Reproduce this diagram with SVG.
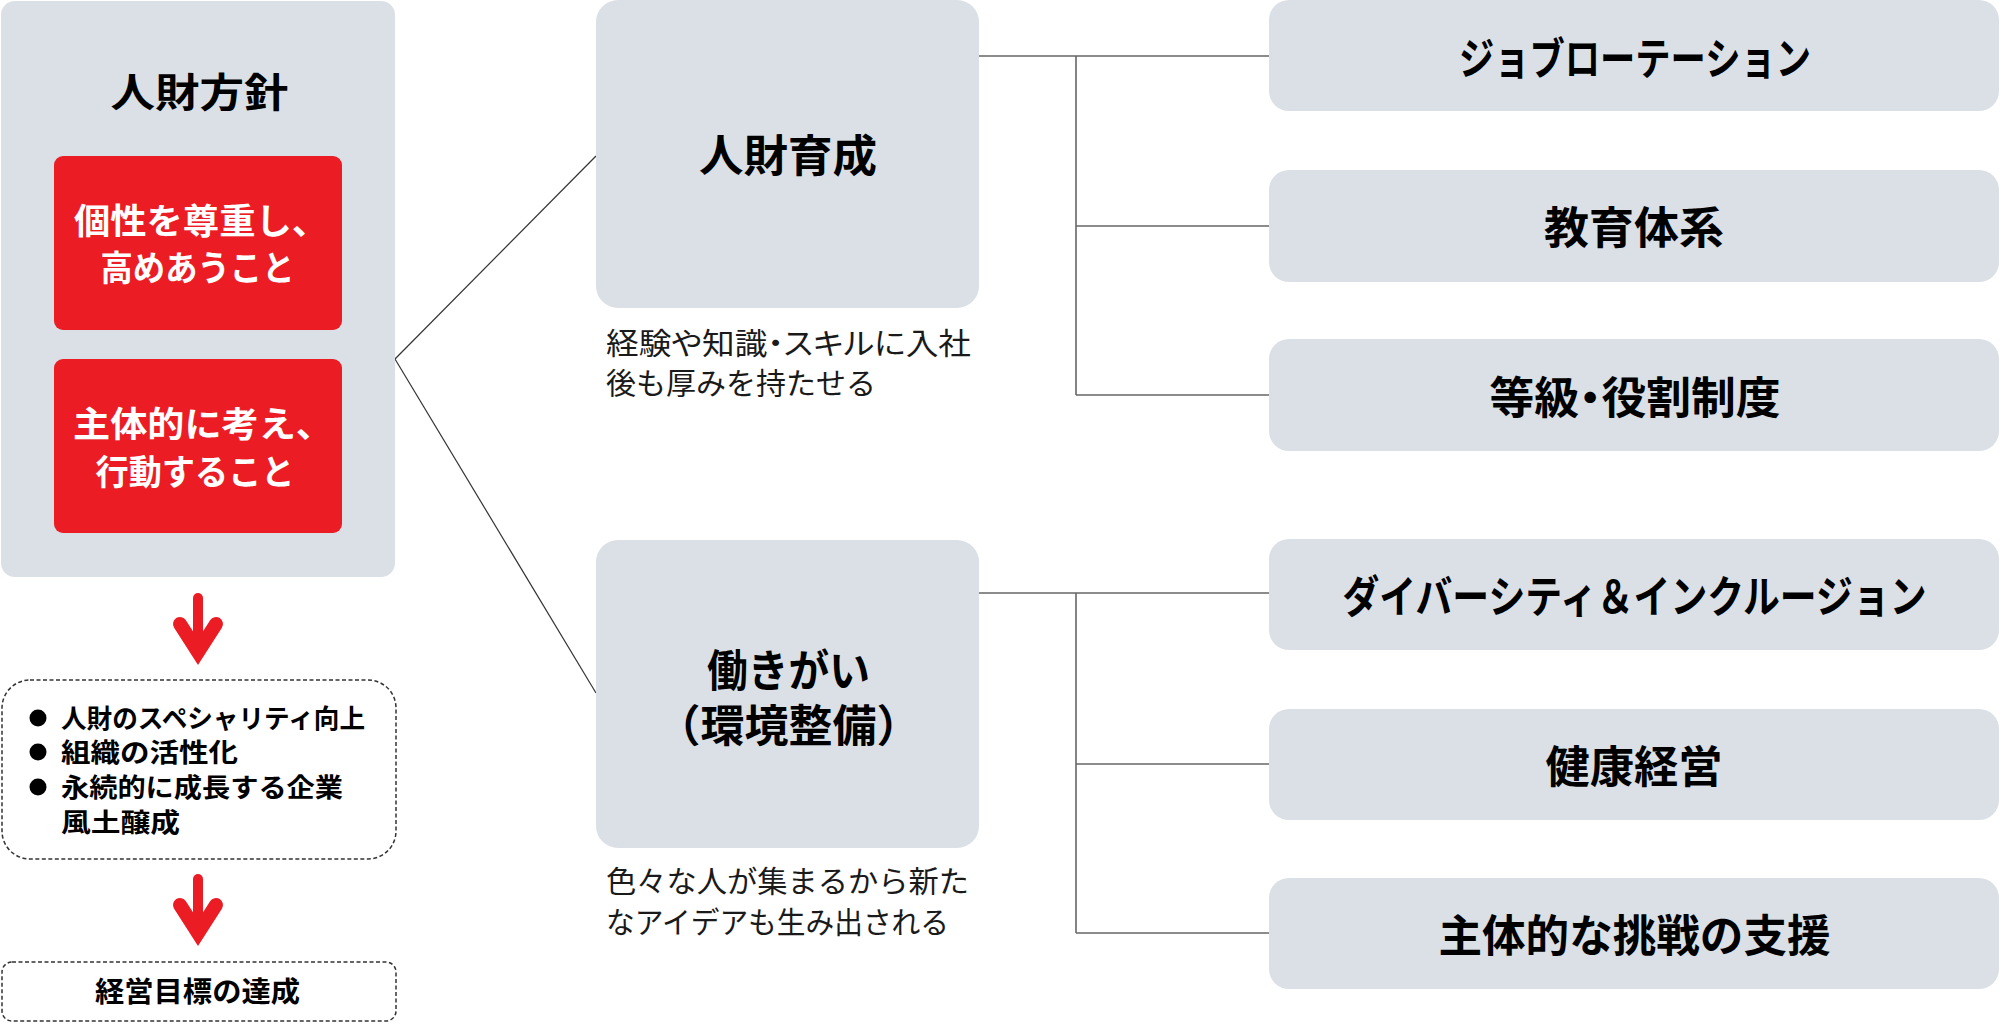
<svg xmlns="http://www.w3.org/2000/svg" xmlns:xlink="http://www.w3.org/1999/xlink" width="2000" height="1027" viewBox="0 0 2000 1027">
<style>
  text { font-family: "Noto Sans CJK JP", "Noto Sans CJK SC", sans-serif; }
  .panel { fill: #DAE0E6; }
  .red { fill: #EC1C24; }
  .dash { fill: #FFFFFF; stroke: #333333; stroke-width: 1.5; stroke-dasharray: 4 2.5; }
  .b { font-weight: 700; fill: #000000; }
  .w { font-weight: 700; fill: #FFFFFF; }
  .cap { font-weight: 400; fill: #1A1A1A; font-size: 30px; }
  .c { text-anchor: middle; }
  .p { font-feature-settings: "palt" 1; }
  .conn { stroke: #666666; stroke-width: 1.6; fill: none; }
  .diag { stroke: #333333; stroke-width: 1.2; fill: none; }
  .arrShaft { stroke: #EC1C24; stroke-width: 10; stroke-linecap: round; fill: none; }
  .arrHead { stroke: #EC1C24; stroke-width: 14; stroke-linecap: round; stroke-linejoin: miter; fill: none; }
</style>
<defs>
  <g id="downArrow">
    <line class="arrShaft" x1="0" y1="5" x2="0" y2="55"/>
    <polyline class="arrHead" points="-18,31 0,59 18,31"/>
  </g>
</defs>
<rect width="2000" height="1027" fill="#FFFFFF"/>

<g id="connectors">
  <line class="diag" x1="395" y1="359" x2="596" y2="156"/>
  <line class="diag" x1="395" y1="359" x2="596" y2="693"/>
  <line class="conn" x1="979" y1="56" x2="1269" y2="56"/>
  <line class="conn" x1="1076" y1="56" x2="1076" y2="395"/>
  <line class="conn" x1="1076" y1="226" x2="1269" y2="226"/>
  <line class="conn" x1="1076" y1="395" x2="1269" y2="395"/>
  <line class="conn" x1="979" y1="593" x2="1269" y2="593"/>
  <line class="conn" x1="1076" y1="593" x2="1076" y2="933"/>
  <line class="conn" x1="1076" y1="764" x2="1269" y2="764"/>
  <line class="conn" x1="1076" y1="933" x2="1269" y2="933"/>
  <use xlink:href="#downArrow" href="#downArrow" transform="translate(198,593)"/>
  <use xlink:href="#downArrow" href="#downArrow" transform="translate(198,874)"/>
</g>

<g id="policy">
  <rect class="panel" x="1" y="1" width="394" height="576" rx="14"/>
  <text class="b c" x="199.5" y="107" font-size="40" textLength="178" lengthAdjust="spacingAndGlyphs">人財方針</text>
</g>
<g id="value1">
  <rect class="red" x="54" y="156" width="288" height="174" rx="9"/>
  <text class="w c" x="201" y="234" font-size="35" textLength="254" lengthAdjust="spacingAndGlyphs">個性を尊重し、</text>
  <text class="w c" x="197.5" y="281" font-size="35" textLength="194" lengthAdjust="spacingAndGlyphs">高めあうこと</text>
</g>
<g id="value2">
  <rect class="red" x="54" y="359" width="288" height="174" rx="9"/>
  <text class="w c" x="203" y="437" font-size="35" textLength="260" lengthAdjust="spacingAndGlyphs">主体的に考え、</text>
  <text class="w c" x="195" y="485" font-size="35" textLength="199" lengthAdjust="spacingAndGlyphs">行動すること</text>
</g>

<g id="outcomes">
  <rect class="dash" x="2" y="680" width="394" height="179" rx="28"/>
  <circle cx="38" cy="718" r="8.5" fill="#000000"/>
  <circle cx="38" cy="752" r="8.5" fill="#000000"/>
  <circle cx="38" cy="787" r="8.5" fill="#000000"/>
  <text class="b" x="61" y="728" font-size="26" textLength="304" lengthAdjust="spacingAndGlyphs">人財のスペシャリティ向上</text>
  <text class="b" x="61" y="762" font-size="26" textLength="177" lengthAdjust="spacingAndGlyphs">組織の活性化</text>
  <text class="b" x="61" y="797" font-size="26" textLength="282" lengthAdjust="spacingAndGlyphs">永続的に成長する企業</text>
  <text class="b" x="61" y="832" font-size="26" textLength="119" lengthAdjust="spacingAndGlyphs">風土醸成</text>
</g>

<g id="goal">
  <rect class="dash" x="2" y="962" width="394" height="59" rx="10"/>
  <text class="b c" x="197.5" y="1002" font-size="28" textLength="205" lengthAdjust="spacingAndGlyphs">経営目標の達成</text>
</g>

<g id="development">
  <rect class="panel" x="596" y="0" width="383" height="308" rx="22"/>
  <text class="b c" x="788" y="172" font-size="44" textLength="178" lengthAdjust="spacingAndGlyphs">人財育成</text>
  <text class="cap p" x="606" y="354" textLength="365" lengthAdjust="spacingAndGlyphs">経験や知識・スキルに入社</text>
  <text class="cap" x="606" y="394" textLength="270" lengthAdjust="spacingAndGlyphs">後も厚みを持たせる</text>
</g>

<g id="engagement">
  <rect class="panel" x="596" y="540" width="383" height="308" rx="22"/>
  <text class="b c" x="788.5" y="687" font-size="44" textLength="163" lengthAdjust="spacingAndGlyphs">働きがい</text>
  <text class="b c" x="788.5" y="742" font-size="44" textLength="264" lengthAdjust="spacingAndGlyphs">（環境整備）</text>
  <text class="cap" x="606" y="892" textLength="363" lengthAdjust="spacingAndGlyphs">色々な人が集まるから新た</text>
  <text class="cap" x="606" y="933" textLength="343" lengthAdjust="spacingAndGlyphs">なアイデアも生み出される</text>
</g>

<g id="jobRotation">
  <rect class="panel" x="1269" y="0" width="730" height="111" rx="20"/>
  <text class="b c" x="1635" y="75" font-size="44" textLength="352" lengthAdjust="spacingAndGlyphs">ジョブローテーション</text>
</g>
<g id="education">
  <rect class="panel" x="1269" y="170" width="730" height="112" rx="20"/>
  <text class="b c" x="1634" y="244" font-size="44" textLength="180" lengthAdjust="spacingAndGlyphs">教育体系</text>
</g>
<g id="grading">
  <rect class="panel" x="1269" y="339" width="730" height="112" rx="20"/>
  <text class="b c p" x="1635" y="414" font-size="44" textLength="291" lengthAdjust="spacingAndGlyphs">等級・役割制度</text>
</g>
<g id="diversity">
  <rect class="panel" x="1269" y="539" width="730" height="111" rx="20"/>
  <text class="b c" x="1634.5" y="613" font-size="44" textLength="584" lengthAdjust="spacingAndGlyphs">ダイバーシティ＆インクルージョン</text>
</g>
<g id="health">
  <rect class="panel" x="1269" y="709" width="730" height="111" rx="20"/>
  <text class="b c" x="1634" y="783" font-size="44" textLength="177" lengthAdjust="spacingAndGlyphs">健康経営</text>
</g>
<g id="challenge">
  <rect class="panel" x="1269" y="878" width="730" height="111" rx="20"/>
  <text class="b c" x="1634.5" y="952" font-size="44" textLength="392" lengthAdjust="spacingAndGlyphs">主体的な挑戦の支援</text>
</g>
</svg>
